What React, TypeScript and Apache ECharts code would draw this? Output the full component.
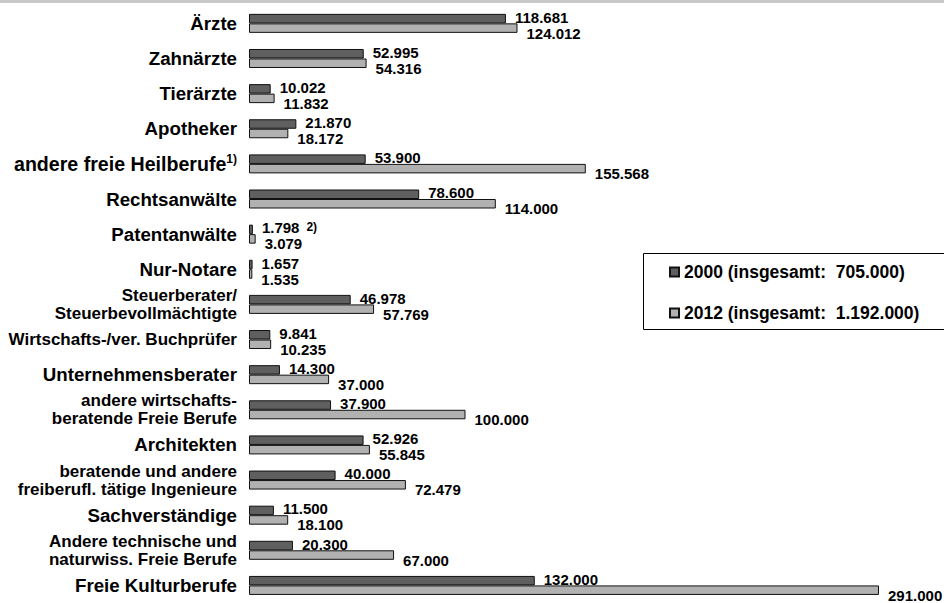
import React, { useEffect, useRef } from "react";
import * as echarts from "echarts";

// Freie Berufe in Deutschland: Selbständige nach Berufsgruppen, 2000 und 2012
const categories = [
  "Ärzte",
  "Zahnärzte",
  "Tierärzte",
  "Apotheker",
  "andere freie Heilberufe",
  "Rechtsanwälte",
  "Patentanwälte",
  "Nur-Notare",
  "Steuerberater/\nSteuerbevollmächtigte",
  "Wirtschafts-/ver. Buchprüfer",
  "Unternehmensberater",
  "andere wirtschafts-\nberatende Freie Berufe",
  "Architekten",
  "beratende und andere\nfreiberufl. tätige Ingenieure",
  "Sachverständige",
  "Andere technische und\nnaturwiss. Freie Berufe",
  "Freie Kulturberufe",
];
// footnote markers attached to category names
const categoryNotes = ["", "", "", "", "1)", "", "", "", "", "", "", "", "", "", "", "", ""];

const values2000 = [118681, 52995, 10022, 21870, 53900, 78600, 1798, 1657, 46978, 9841, 14300, 37900, 52926, 40000, 11500, 20300, 132000];
const values2012 = [124012, 54316, 11832, 18172, 155568, 114000, 3079, 1535, 57769, 10235, 37000, 100000, 55845, 72479, 18100, 67000, 291000];
// footnote markers attached to value labels of 2000
const notes2000 = ["", "", "", "", "", "", "2)", "", "", "", "", "", "", "", "", "", ""];

const seriesNames = ["2000", "2012"];
const totals = ["705.000", "1.192.000"];

const FONT = '"Liberation Sans", Arial, Helvetica, sans-serif';
const DARK = "#5f5f5f";
const LIGHT = "#b1b1b1";

function fmt(v: number): string {
  return String(v).replace(/\B(?=(\d{3})+(?!\d))/g, ".");
}

export default function App() {
  const ref = useRef<HTMLDivElement>(null);

  useEffect(() => {
    if (!ref.current) return;
    const chart = echarts.init(ref.current, undefined, { renderer: "svg" });

    const valueRich = {
      v: { fontSize: 15, fontWeight: "bold", fontFamily: FONT, color: "#000", lineHeight: 13 },
      sup: { fontSize: 12, fontWeight: "bold", fontFamily: FONT, color: "#000", verticalAlign: "top", lineHeight: 9, padding: [0, 0, 0, 7] },
    };

    const makeLabel = (notes: string[] | null, dy: number) => ({
      show: true,
      position: "right",
      distance: 9,
      offset: [0, dy],
      formatter: (p: any) => {
        const note = notes ? notes[p.dataIndex] : "";
        return `{v|${fmt(p.value)}}` + (note ? `{sup|${note}}` : "");
      },
      rich: valueRich,
    });

    const option = {
      animation: false,
      backgroundColor: "#fff",
      textStyle: { fontFamily: FONT },
      graphic: [
        {
          type: "rect",
          shape: { x: 0, y: 0, width: 944, height: 3 },
          style: { fill: "#c8c8c8" },
          silent: true,
        },
        {
          type: "rect",
          shape: { x: 643.5, y: 253.5, width: 320, height: 76 },
          style: { fill: "#fff", stroke: "#000", lineWidth: 1 },
          silent: true,
          z: -1,
        },
      ],
      legend: {
        orient: "vertical",
        left: 669,
        top: 262,
        padding: 0,
        itemWidth: 9,
        itemHeight: 9,
        itemGap: 21,
        selectedMode: false,
        icon: "rect",
        data: seriesNames,
        formatter: (name: string) => `${name} (insgesamt:  ${totals[seriesNames.indexOf(name)]})`,
        textStyle: { fontSize: 17.5, fontWeight: "bold", fontFamily: FONT, color: "#000", lineHeight: 20 },
      },
      grid: { left: 249, top: 5.8, width: 649.5, height: 600.8, containLabel: false },
      xAxis: {
        type: "value",
        min: 0,
        max: 300000,
        show: false,
      },
      yAxis: {
        type: "category",
        inverse: true,
        data: categories,
        axisLine: { show: false },
        axisTick: { show: false },
        splitLine: { show: false },
        axisLabel: {
          margin: 12,
          color: "#000",
          fontFamily: FONT,
          fontWeight: "bold",
          formatter: (value: string, index: number) => {
            const lines = value.split("\n");
            const note = categoryNotes[index];
            const style = note ? "h" : lines.length > 1 || value.length > 24 ? "s" : "b";
            return lines.map((l) => `{${style}|${l}}`).join("\n") + (note ? `{sup|${note}}` : "");
          },
          rich: {
            b: { fontSize: 18.7, fontWeight: "bold", fontFamily: FONT, color: "#000", lineHeight: 20 },
            h: { fontSize: 19.6, fontWeight: "bold", fontFamily: FONT, color: "#000", lineHeight: 21 },
            s: { fontSize: 17, fontWeight: "bold", fontFamily: FONT, color: "#000", lineHeight: 18 },
            sup: { fontSize: 12, fontWeight: "bold", fontFamily: FONT, color: "#000", verticalAlign: "top", lineHeight: 12 },
          },
        },
      },
      series: [
        {
          name: seriesNames[0],
          type: "bar",
          data: values2000,
          barWidth: 9.5,
          barGap: "0%",
          itemStyle: { color: DARK, borderColor: "#111", borderWidth: 1 },
          label: makeLabel(notes2000, -1.5),
        },
        {
          name: seriesNames[1],
          type: "bar",
          data: values2012,
          barWidth: 9.5,
          barGap: "0%",
          itemStyle: { color: LIGHT, borderColor: "#111", borderWidth: 1 },
          label: makeLabel(null, 5),
        },
      ],
    };

    chart.setOption(option as any);
    return () => chart.dispose();
  }, []);

  return (
    <div
      ref={ref}
      style={{ position: "absolute", left: 0, top: 0, width: 944, height: 603 }}
    />
  );
}
